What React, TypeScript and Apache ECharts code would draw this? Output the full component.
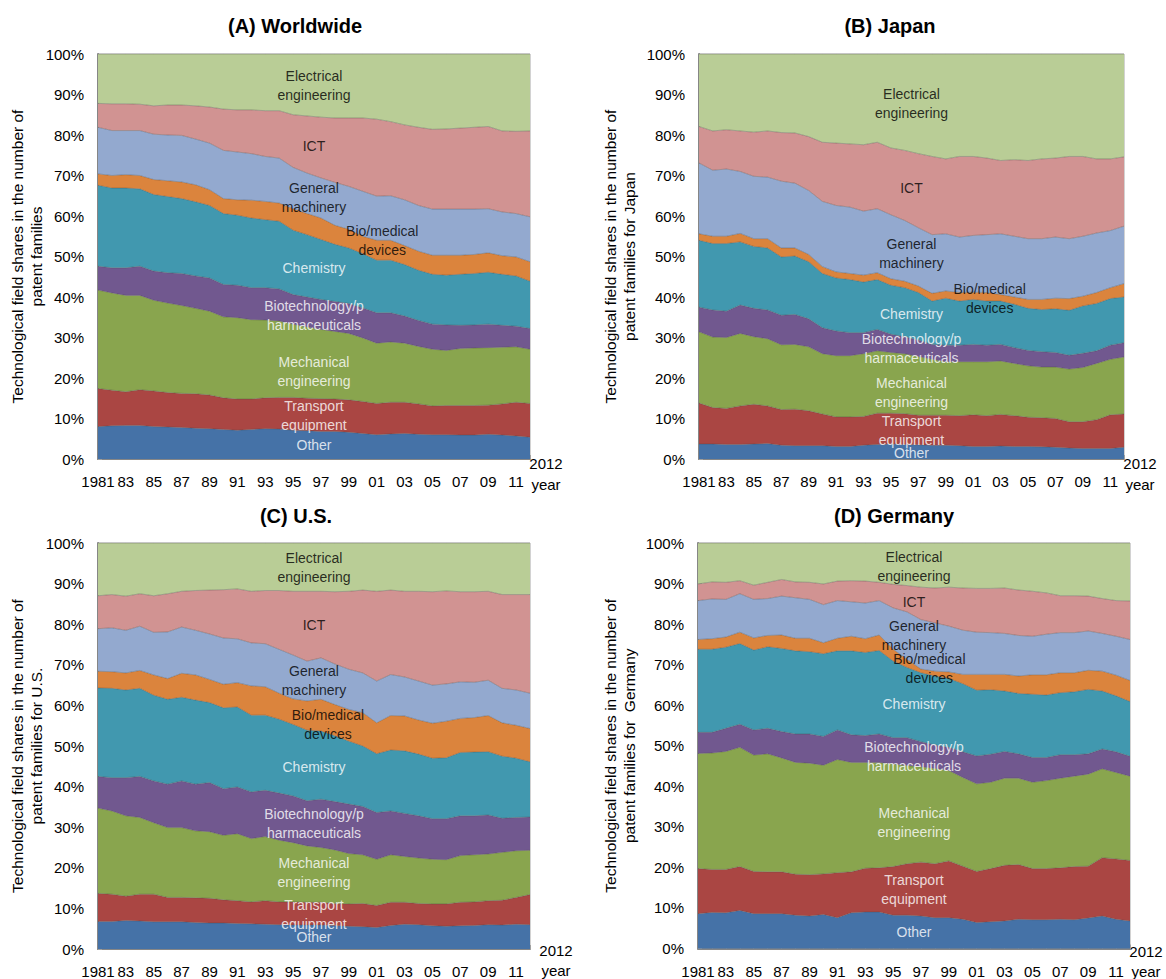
import React, { useEffect, useRef } from "react";
import * as echarts from "echarts";

// ---------- categories ----------
const YEARS = [
  "1981", "1982", "1983", "1984", "1985", "1986", "1987", "1988", "1989", "1990",
  "1991", "1992", "1993", "1994", "1995", "1996", "1997", "1998", "1999", "2000",
  "2001", "2002", "2003", "2004", "2005", "2006", "2007", "2008", "2009", "2010",
  "2011", "2012",
];

const FIELDS = [
  "Other", "Transport equipment", "Mechanical engineering", "Biotechnology/pharmaceuticals",
  "Chemistry", "Bio/medical devices", "General machinery", "ICT", "Electrical engineering",
];
const LABEL_TEXT = [
  "Other", "Transport\nequipment", "Mechanical\nengineering", "Biotechnology/p\nharmaceuticals",
  "Chemistry", "Bio/medical\ndevices", "General\nmachinery", "ICT", "Electrical\nengineering",
];

// ---------- data: cumulative upper boundary (%) of each field ----------
// (A) Worldwide
const wOther = [8.0,8.2,8.3,8.3,8.0,7.9,7.8,7.6,7.5,7.3,7.1,7.3,7.5,7.4,7.1,7.0,6.8,6.8,6.6,6.3,6.0,6.2,6.3,6.1,6.0,6.0,5.9,5.9,6.1,5.9,5.7,5.4];
const wTransport = [17.4,17.0,16.6,17.1,16.8,16.4,16.2,16.1,15.8,15.1,14.8,14.8,15.1,15.2,15.2,15.0,14.9,14.8,14.6,14.2,13.7,14.0,14.0,13.6,13.1,13.2,13.2,13.2,13.3,13.6,14.0,13.7];
const wMech = [41.7,41.0,40.4,40.4,39.2,38.5,37.9,37.2,36.5,35.1,34.9,34.4,34.3,34.1,33.3,32.6,32.0,31.5,31.0,29.9,28.6,28.9,28.6,27.8,27.1,26.8,27.3,27.4,27.5,27.6,27.7,27.1];
const wBiotech = [47.6,47.2,47.2,47.6,46.4,46.0,45.8,45.2,44.7,43.1,42.9,42.3,42.3,42.0,40.6,40.0,39.4,38.9,38.4,37.3,36.1,36.1,35.3,34.2,33.3,33.1,33.0,33.1,33.3,33.0,32.8,32.2];
const wChem = [67.6,66.9,66.9,66.7,65.3,64.8,64.3,63.5,62.6,60.6,60.2,59.5,59.1,58.7,56.5,55.4,54.2,53.0,52.1,50.7,49.1,49.1,48.0,46.6,45.6,45.4,45.6,45.8,46.1,45.6,45.2,43.9];
const wBioMed = [70.4,70.0,70.2,70.0,69.0,68.7,68.4,67.7,66.5,64.3,64.0,63.9,63.6,63.2,61.8,60.6,59.5,57.7,56.7,55.0,54.0,54.0,52.7,51.3,50.3,50.3,50.3,50.5,50.9,50.2,49.9,48.7];
const wGenMach = [81.9,81.1,81.1,81.1,80.2,80.0,79.9,79.0,78.0,76.2,75.8,75.4,74.7,74.3,72.0,70.6,69.4,68.3,67.3,66.1,64.9,65.0,64.0,62.6,61.7,61.7,61.7,61.7,61.8,61.0,60.6,59.8];
const wICT = [87.8,87.7,87.7,87.6,87.2,87.4,87.4,87.2,86.9,86.4,86.2,86.2,86.0,86.0,85.0,84.7,84.4,84.2,84.2,84.2,83.9,83.3,82.5,81.9,81.4,81.5,81.7,81.9,82.1,81.0,80.9,81.0];

// (B) Japan
const jOther = [3.7,3.7,3.6,3.6,3.7,3.8,3.4,3.3,3.3,3.3,3.1,3.1,3.4,3.6,3.7,3.6,3.5,3.4,3.4,3.3,3.1,3.1,3.2,3.1,3.1,3.0,2.9,2.7,2.6,2.6,2.6,2.9];
const jTransport = [13.8,12.7,12.5,13.1,13.5,13.1,12.2,12.3,11.9,11.1,10.4,10.4,10.5,11.3,11.3,11.2,10.8,10.8,10.8,10.7,10.9,10.7,11.0,10.7,10.3,10.2,10.0,9.2,9.2,9.7,10.9,11.1];
const jMech = [31.4,30.1,30.0,31.0,30.2,29.7,28.2,28.3,27.7,26.0,25.5,25.5,26.0,26.7,26.3,26.0,25.3,24.6,24.0,24.0,24.0,24.0,24.2,23.6,23.0,22.7,22.7,22.2,22.6,23.6,24.6,25.2];
const jBiotech = [37.5,36.8,36.5,38.0,37.2,36.8,35.5,35.7,34.6,32.4,31.6,31.2,31.2,32.0,30.8,30.2,29.4,28.3,28.1,28.1,28.3,28.1,28.3,27.5,26.8,26.5,26.3,25.6,26.1,26.7,28.1,28.7];
const jChem = [54.0,53.2,53.2,53.6,52.5,52.1,49.9,50.1,48.7,45.8,44.7,44.3,43.7,44.3,42.9,42.3,41.1,39.0,39.7,39.0,39.4,39.0,39.0,38.2,37.2,36.9,37.1,36.7,37.8,38.4,39.6,40.0];
const jBioMed = [55.6,55.0,55.0,55.7,54.4,54.4,52.1,52.1,50.5,47.5,46.2,45.8,45.4,46.0,44.5,43.9,42.7,40.9,41.5,41.1,41.2,41.1,40.6,40.0,39.4,39.4,39.7,39.6,40.2,41.1,42.3,43.3];
const jGenMach = [73.1,71.3,71.6,71.0,69.8,69.6,68.6,68.1,66.3,63.6,62.6,62.2,61.2,61.8,60.3,58.9,57.1,55.4,55.6,54.8,55.2,55.4,55.6,55.0,54.4,54.4,54.8,54.4,55.0,55.8,56.4,57.5];
const jICT = [82.1,81.0,81.3,81.0,80.7,81.0,80.6,80.5,79.6,78.2,78.0,77.8,77.6,78.2,76.8,76.2,75.4,74.7,74.1,74.7,74.7,74.3,73.7,73.9,73.7,74.1,74.3,74.7,74.7,74.1,74.1,74.6];

// (C) U.S.
const uOther = [6.8,6.8,7.0,6.9,6.7,6.7,6.7,6.5,6.4,6.4,6.3,6.2,6.1,6.0,5.9,5.9,5.9,5.8,5.6,5.5,5.3,5.8,6.1,6.0,5.7,5.6,5.7,5.8,6.0,5.9,6.1,6.0];
const uTransport = [13.7,13.5,13.0,13.5,13.5,12.7,12.7,12.6,12.5,12.1,11.9,11.6,11.9,11.6,11.6,11.5,11.5,11.2,11.1,11.2,10.7,11.5,11.5,11.2,11.1,11.1,11.5,11.6,11.9,12.0,12.7,13.4];
const uMech = [34.7,34.0,32.8,32.4,31.1,29.9,29.9,29.1,28.9,28.0,28.4,27.2,27.7,26.8,26.2,25.4,25.0,24.4,23.5,23.2,22.1,23.2,22.8,22.4,22.1,22.0,23.0,23.2,23.4,23.8,24.2,24.3];
const uBiotech = [42.5,42.2,42.2,42.5,41.4,40.6,41.4,40.6,41.0,39.5,39.9,38.7,39.1,38.4,37.7,36.5,36.9,36.3,35.7,35.1,33.6,34.0,33.4,32.8,32.1,32.1,32.8,32.8,33.0,32.2,32.4,32.5];
const uChem = [64.3,64.2,63.8,64.2,62.5,61.5,62.0,61.3,60.7,59.4,59.6,57.6,57.6,56.6,55.3,53.9,53.7,52.5,51.2,50.0,48.1,49.0,48.8,48.0,47.0,47.1,48.4,48.5,48.6,47.5,47.0,46.1];
const uBioMed = [68.4,68.3,68.0,68.6,67.5,66.6,67.9,67.5,66.4,65.2,65.6,64.8,64.6,63.0,61.6,61.1,61.5,60.2,59.0,58.2,55.7,57.5,57.4,56.4,55.6,56.1,56.8,57.0,57.5,55.7,55.1,54.3];
const uGenMach = [78.9,79.1,78.5,79.5,78.0,78.1,79.3,78.5,77.6,76.6,76.4,75.4,75.2,73.8,72.4,70.9,71.7,70.2,68.9,68.0,66.0,67.6,67.0,66.0,65.0,65.3,65.8,65.7,66.2,64.2,63.8,63.0];
const uICT = [87.0,87.3,86.9,87.5,87.0,87.5,88.1,88.3,88.4,88.5,88.7,88.1,88.3,88.3,88.1,88.1,88.1,88.0,88.1,88.4,88.1,88.4,88.1,88.1,88.0,88.2,88.0,88.0,88.1,87.3,87.3,87.3];

// (D) Germany
const gOther = [8.6,8.9,8.8,9.4,8.6,8.6,8.6,8.2,8.0,8.4,7.6,8.8,9.0,9.0,8.2,8.2,8.0,7.6,7.6,7.2,6.4,6.6,6.8,7.2,7.1,7.1,7.2,7.1,7.5,8.0,7.2,6.8];
const gTransport = [19.7,19.5,19.5,20.2,19.0,18.9,18.9,18.3,18.2,18.4,18.7,18.9,19.8,19.9,20.2,20.9,21.3,20.9,21.6,20.3,19.0,19.7,20.5,20.7,19.7,19.7,19.9,20.2,20.3,22.4,22.1,21.7];
const gMech = [48.1,48.2,48.6,49.6,47.7,48.0,47.0,45.9,45.7,45.2,46.6,45.9,45.9,45.9,45.5,45.1,44.8,44.4,43.9,42.2,40.6,41.0,42.0,42.0,41.0,41.4,42.0,42.5,43.0,44.3,43.4,42.5];
const gBiotech = [53.3,53.3,54.3,55.3,53.9,54.3,53.5,52.9,52.9,52.3,53.9,52.7,52.5,52.9,52.0,52.0,51.0,50.2,49.6,48.5,47.5,47.9,48.6,48.0,47.1,47.1,47.8,47.8,48.0,49.2,48.5,47.4];
const gChem = [73.8,73.8,74.3,75.2,73.6,74.4,74.0,73.4,73.2,72.7,73.4,73.4,73.0,73.5,70.9,69.3,68.0,67.2,66.6,65.3,63.7,63.8,63.5,62.9,62.7,62.5,63.1,63.3,63.9,63.5,62.3,60.9];
const gBioMed = [76.2,76.4,76.8,78.0,76.6,77.2,77.3,76.5,76.5,75.4,76.5,77.0,76.4,77.3,73.8,71.3,68.9,68.4,68.2,67.6,67.6,67.6,67.6,67.2,67.5,67.5,68.0,68.0,68.6,68.4,67.4,66.1];
const gGenMach = [85.8,86.2,86.1,87.5,86.1,86.3,86.9,86.5,86.1,84.8,85.8,85.5,85.2,85.8,84.0,83.0,81.1,80.3,79.5,78.5,78.0,77.9,77.7,77.2,77.0,77.5,77.9,77.9,78.3,77.7,77.0,76.2];
const gICT = [89.9,90.4,90.3,90.7,89.6,90.3,91.0,90.4,90.3,89.9,90.6,90.7,90.6,90.3,89.8,89.5,89.1,88.9,89.1,88.9,88.8,88.8,88.9,88.4,88.1,87.7,87.0,87.0,86.9,86.3,85.8,85.7];

// ---------- styles ----------
const COLORS = ["#4572A7", "#AA4643", "#89A54E", "#71588F", "#4198AF", "#DB843D", "#93A9CF", "#D19392", "#B9CD96"];
const LABEL_COLORS = ["#ffffff", "#ffffff", "#ffffff", "#ffffff", "#ffffff", "#000000", "#000000", "#000000", "#000000"];
const FONT = '"Liberation Sans", Arial, sans-serif';

const PANELS = [
  {
    title: "(A) Worldwide", titleX: 290, titleY: 11,
    yName: "Technological field shares in the number of\npatent families",
    tops: [wOther, wTransport, wMech, wBiotech, wChem, wBioMed, wGenMach, wICT],
    grid: { left: 98, top: 54, width: 432, height: 405 },
    yNameGap: 52, xNameGap: 16, line1: 8, line2: 34,
    labelAt: [[15.5, 3.4], [15.5, 10.7], [15.5, 21.6], [15.5, 35.5], [15.5, 47.2], [20.4, 54.0], [15.5, 64.6], [15.5, 77.3], [15.5, 92.1]],
  },
  {
    title: "(B) Japan", titleX: 885, titleY: 11,
    yName: "Technological field shares in the number of\npatent families for Japan",
    tops: [jOther, jTransport, jMech, jBiotech, jChem, jBioMed, jGenMach, jICT],
    grid: { left: 699, top: 54, width: 425, height: 405 },
    yNameGap: 60, xNameGap: 16, line1: 8, line2: 34,
    labelAt: [[15.5, 1.5], [15.5, 7.1], [15.5, 16.4], [15.5, 27.3], [15.5, 35.9], [21.2, 39.7], [15.5, 50.7], [15.5, 66.9], [15.5, 87.7]],
  },
  {
    title: "(C) U.S.", titleX: 291, titleY: 501,
    yName: "Technological field shares in the number of\npatent families for U.S.",
    tops: [uOther, uTransport, uMech, uBiotech, uChem, uBioMed, uGenMach, uICT],
    grid: { left: 98, top: 543, width: 432, height: 406 },
    yNameGap: 52, xNameGap: 26, line1: 2, line2: 38,
    labelAt: [[15.5, 3.0], [15.5, 8.4], [15.5, 18.9], [15.5, 31.0], [15.5, 44.9], [16.5, 55.3], [15.5, 66.1], [15.5, 79.7], [15.5, 93.9]],
  },
  {
    title: "(D) Germany", titleX: 889, titleY: 501,
    yName: "Technological field shares in the number of\npatent families for  Germany",
    tops: [gOther, gTransport, gMech, gBiotech, gChem, gBioMed, gGenMach, gICT],
    grid: { left: 698, top: 543, width: 432, height: 406 },
    yNameGap: 59, xNameGap: 16, line1: 6, line2: 34,
    labelAt: [[15.5, 4.1], [15.5, 14.5], [15.5, 31.1], [15.5, 47.4], [15.5, 60.2], [16.6, 69.0], [15.5, 77.3], [15.5, 85.5], [15.5, 94.3]],
  },
];

function sharesFromTops(tops: number[][]): number[][] {
  const all = [...tops, YEARS.map(() => 100)];
  return all.map((row, f) =>
    row.map((v, i) => Math.round((v - (f > 0 ? all[f - 1][i] : 0)) * 10) / 10)
  );
}

function buildOption() {
  const grid: any[] = [];
  const xAxis: any[] = [];
  const yAxis: any[] = [];
  const series: any[] = [];
  const title: any[] = [];

  PANELS.forEach((p, pi) => {
    grid.push({ ...p.grid, show: true, borderColor: "#a6a6a6", borderWidth: 1, backgroundColor: "transparent" });
    title.push({
      text: p.title, left: p.titleX, top: p.titleY, textAlign: "center",
      textStyle: { fontFamily: FONT, fontWeight: "bold", fontSize: 20, color: "#000" },
    });
    xAxis.push({
      type: "category", gridIndex: pi, data: YEARS, boundaryGap: false,
      axisLine: { show: true, lineStyle: { color: "#868686", width: 2 } },
      axisTick: { show: true, inside: true, length: 4, interval: 0, lineStyle: { color: "#a0a0a0" } },
      axisLabel: {
        interval: (i: number) => i % 2 === 0 && i < YEARS.length - 1,
        margin: 15, fontFamily: FONT, fontSize: 15, color: "#000",
        showMinLabel: true, hideOverlap: false,
        formatter: (v: string, i: number) => (i === 0 ? v : i === YEARS.length - 1 ? "" : v.slice(2)),
      },
      splitLine: { show: false },
      name: "{a|2012}\n{b|year}", nameLocation: "end", nameGap: p.xNameGap,
      nameMoveOverlap: false,
      nameTextStyle: {
        fontFamily: FONT, fontSize: 15, color: "#000", align: "center", verticalAlign: "top",
        rich: {
          a: { fontFamily: FONT, fontSize: 15, color: "#000", lineHeight: p.line1 },
          b: { fontFamily: FONT, fontSize: 15, color: "#000", lineHeight: p.line2 },
        },
      },
    });
    yAxis.push({
      type: "value", gridIndex: pi, min: 0, max: 100, interval: 10,
      axisLine: { show: true, lineStyle: { color: "#868686", width: 2 } },
      axisTick: { show: true, inside: true, length: 4, lineStyle: { color: "#a0a0a0" } },
      axisLabel: { formatter: "{value}%", margin: 14, fontFamily: FONT, fontSize: 15, color: "#000" },
      splitLine: { show: false },
      name: p.yName, nameLocation: "middle", nameGap: p.yNameGap,
      nameMoveOverlap: false,
      nameTextStyle: { fontFamily: FONT, fontSize: 15.5, color: "#000", lineHeight: 19, align: "center" },
    });

    const shares = sharesFromTops(p.tops);
    shares.forEach((vals, f) => {
      series.push({
        type: "line", name: FIELDS[f], stack: "panel" + pi, xAxisIndex: pi, yAxisIndex: pi,
        data: vals, symbol: "none", silent: true,
        lineStyle: { width: 1, color: "rgba(70,70,70,0.35)" },
        areaStyle: { color: COLORS[f], opacity: 1 },
        itemStyle: { color: COLORS[f] },
        z: 2,
      });
    });
  });

  // hidden value x-axes used only to place the in-area field labels
  PANELS.forEach((p, pi) => {
    xAxis.push({ type: "value", gridIndex: pi, min: 0, max: 31, show: false });
    series.push({
      type: "scatter", xAxisIndex: PANELS.length + pi, yAxisIndex: pi,
      symbolSize: 0, silent: true, z: 5,
      data: p.labelAt.map((pos, f) => ({
        name: LABEL_TEXT[f], value: pos,
        label: { color: LABEL_COLORS[f] },
      })),
      label: {
        show: true, position: "inside", formatter: "{b}",
        fontFamily: FONT, fontSize: 14, lineHeight: 19, align: "center", verticalAlign: "middle",
      },
    });
  });

  return { animation: false, backgroundColor: "#ffffff", title, grid, xAxis, yAxis, series };
}

export default function App() {
  const ref = useRef<HTMLDivElement>(null);
  useEffect(() => {
    if (!ref.current) return;
    const chart = echarts.init(ref.current, undefined, { renderer: "svg" });
    chart.setOption(buildOption() as any);
    return () => chart.dispose();
  }, []);
  return (
    <div
      ref={ref}
      style={{ position: "absolute", left: 0, top: 0, width: 1166, height: 979, background: "#fff" }}
    />
  );
}
